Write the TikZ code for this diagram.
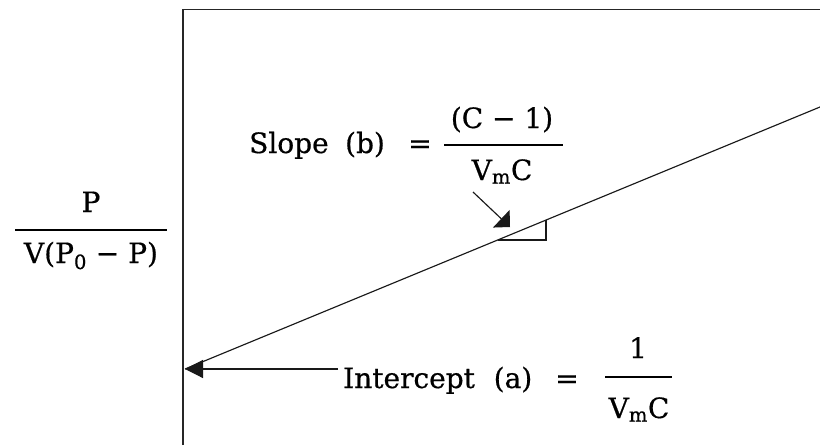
\documentclass[tikz,border=0pt]{standalone}
\usepackage{fontspec}
\setmainfont{DejaVu Serif}[FakeBold=0.6]
\usetikzlibrary{arrows.meta}
\begin{document}
\begin{tikzpicture}[x=1pt,y=-1pt,
  lbl/.style={inner sep=0pt, anchor=base, font=\fontsize{28}{34}\selectfont},
  lblw/.style={lbl, anchor=base west},
  plotline/.style={line width=1.15pt, black!90},
  fracbar/.style={line width=1.4pt, black},
  framestyle/.style={line width=1.8pt, black!85},
  slopetip/.style={-{Triangle[length=12pt,width=24pt]}},
  icpttip/.style={-{Triangle[length=18pt,width=18pt]}}]
\useasboundingbox (0,0) rectangle (820,445);
% frame (axes)
\coordinate (ybot) at (183,445);
\coordinate (corner) at (183,9.5);
\coordinate (xend) at (820,9.5);
\draw[framestyle] (ybot) -- (corner) -- (xend);
% the straight line
\coordinate (lstart) at (185,369);
\coordinate (lend) at (820,107);
\draw[plotline] (lstart) -- (lend);
% slope triangle
\coordinate (t1) at (497.6,240);
\coordinate (t2) at (546,240);
\coordinate (t3) at (546,220.1);
\draw[plotline] (t1) -- (t2) -- (t3);
% y-axis label
\node[lbl] (ynum) at (91,212) {P};
\node[lbl] (yden) at (91,263) {V(P\textsubscript{0} − P)};
\coordinate (yb1) at (15,230);
\coordinate (yb2) at (167,230);
\draw[fracbar] (yb1) -- (yb2);
% slope label
\node[lblw] (slope) at (249,153) {Slope};
\node[lbl] (slopeb) at (365,153) {(b)};
\node[lbl] (slopeeq) at (420,153) {=};
\node[lbl] (snum) at (502,128) {(C − 1)};
\node[lbl] (sden) at (502,180) {V\textsubscript{m}C};
\coordinate (sb1) at (444,145);
\coordinate (sb2) at (563,145);
\draw[fracbar] (sb1) -- (sb2);
% slope arrow
\coordinate (sarrow) at (473,192);
\coordinate (stip) at (510,227);
\draw[plotline, slopetip] (sarrow) -- (stip);
% intercept label
\node[lblw] (icpt) at (343,388) {Intercept};
\node[lbl] (icpta) at (513,388) {(a)};
\node[lbl] (icpteq) at (567,388) {=};
\node[lbl] (inum) at (638,358) {1};
\node[lbl] (iden) at (639,418) {V\textsubscript{m}C};
\coordinate (ib1) at (605,377);
\coordinate (ib2) at (672,377);
\draw[fracbar] (ib1) -- (ib2);
% intercept arrow
\coordinate (iarrow) at (338,369);
\draw[plotline, icpttip] (iarrow) -- (lstart);
\end{tikzpicture}
\end{document}
